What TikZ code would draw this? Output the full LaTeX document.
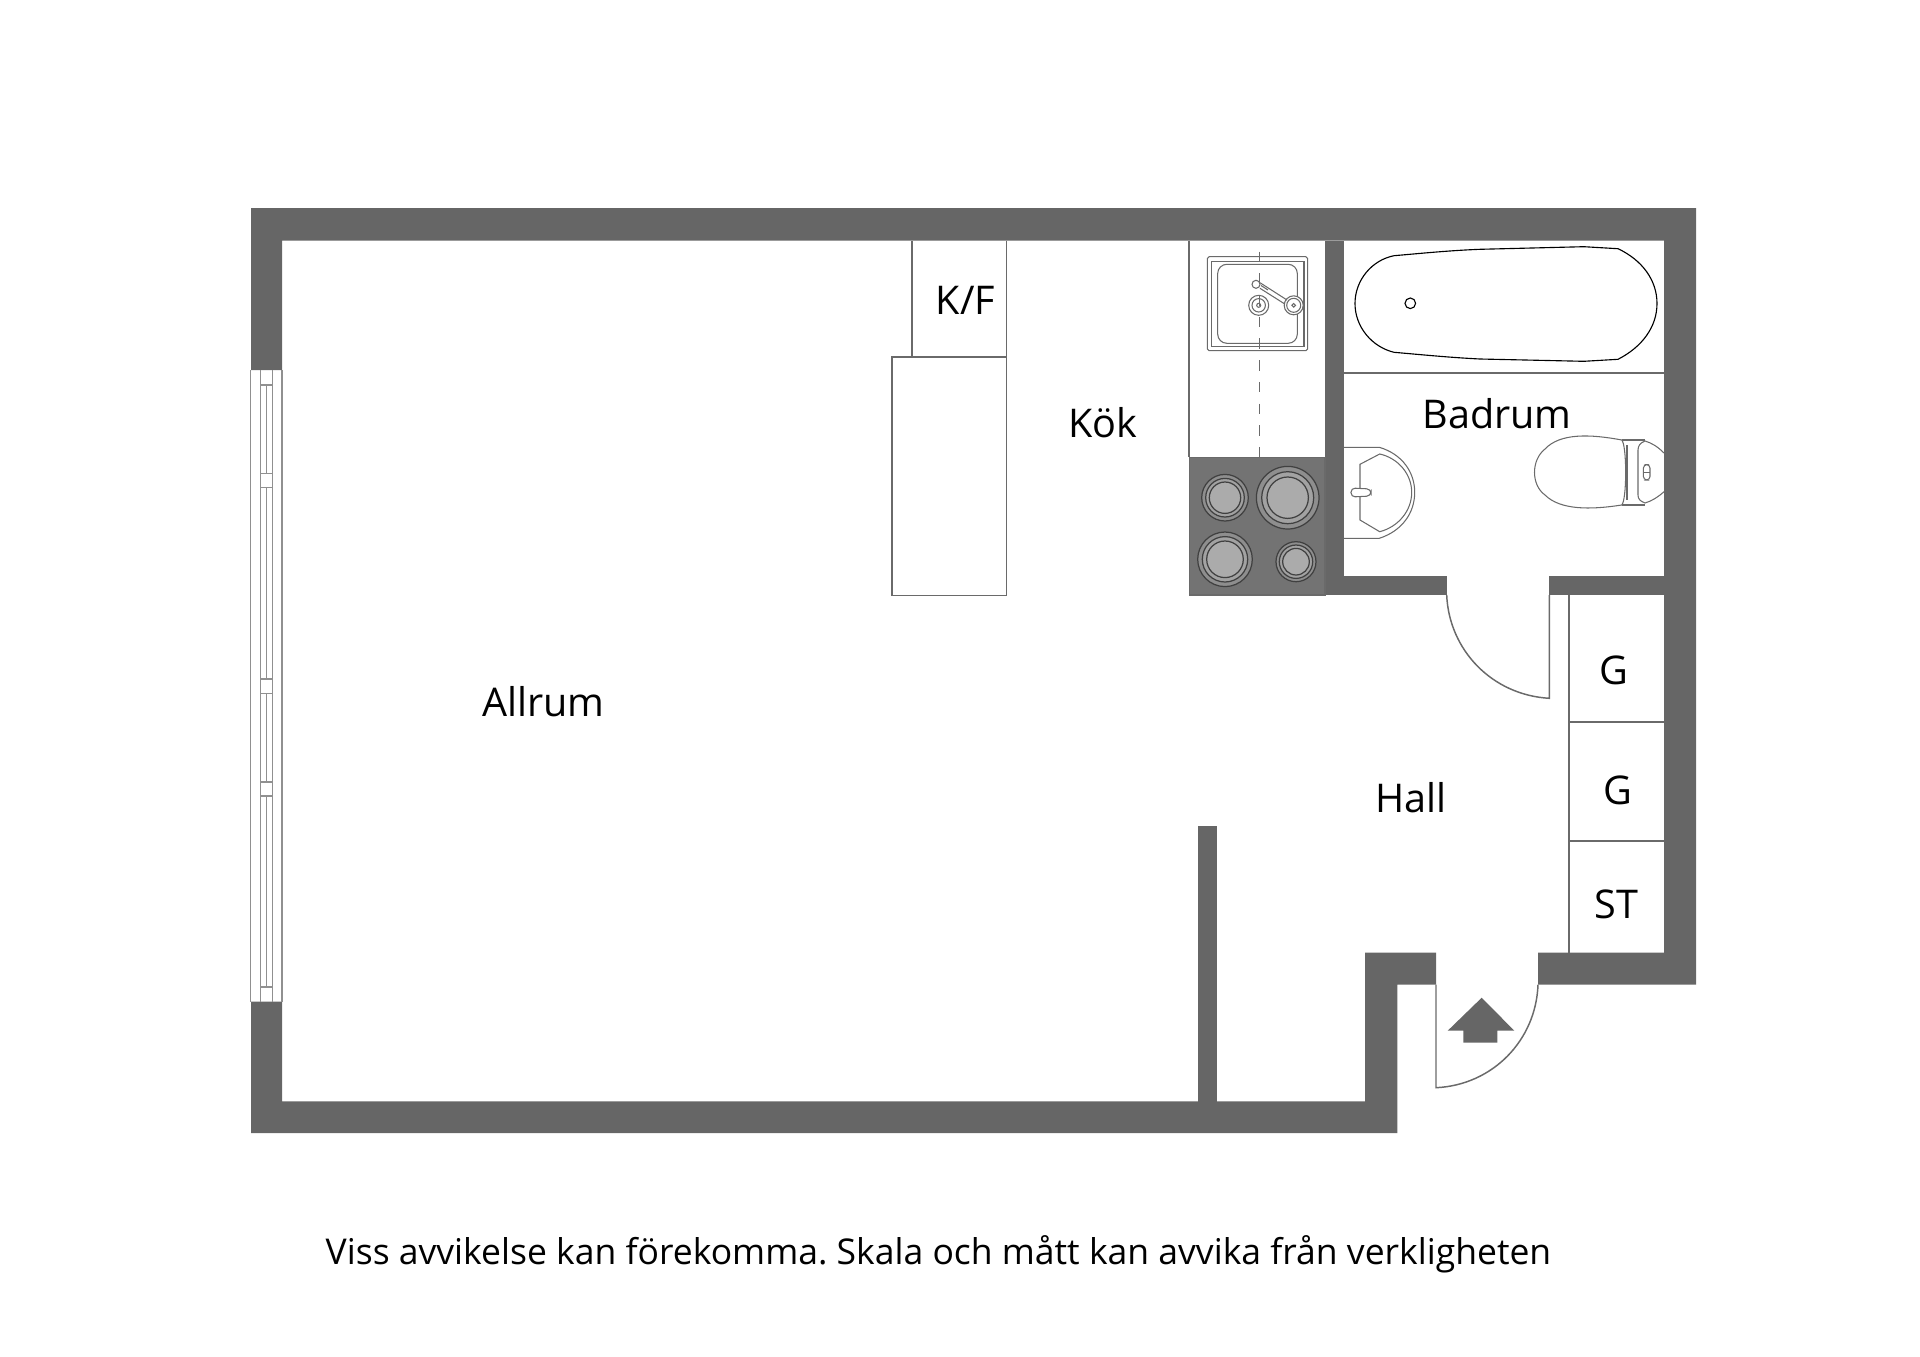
\documentclass[tikz,border=0pt]{standalone}
\usepackage{fontspec}
\setmainfont{Open Sans}
\definecolor{wallgray}{HTML}{666666}
\definecolor{hobgray}{HTML}{737373}
\definecolor{ringgray}{HTML}{8E8E8E}
\definecolor{plategray}{HTML}{ABABAB}
\definecolor{linegray}{HTML}{6A6A6A}
\definecolor{windowgray}{HTML}{909090}
\tikzstyle{wall}=[fill=wallgray, draw=none]
\tikzstyle{thin}=[draw=linegray, line width=0.55pt]
\tikzstyle{swing}=[draw=linegray, line width=0.42pt]
\tikzstyle{fixture}=[draw=linegray, line width=0.3pt]
\tikzstyle{pane}=[draw=windowgray, line width=0.45pt]
\tikzstyle{label}=[font=\fontsize{11.25}{14}\selectfont, text=black, inner sep=0pt]
\tikzstyle{note}=[font=\fontsize{10.1}{12}\selectfont\frenchspacing, text=black, inner sep=0pt]
\tikzstyle{ring}=[draw=black!75, line width=0.35pt]

\begin{document}
\begin{tikzpicture}[x=0.01cm, y=-0.01cm]
	\useasboundingbox (0, 0) rectangle (1920, 1357);
	\begin{scope}
		% outer walls
		\path [wall] (251, 208) -- (1696, 208) -- (1696, 984.7) -- (1538, 984.7) -- (1538, 952.7) -- (1664, 952.7)
			-- (1664, 240.5) -- (282, 240.5) -- (282, 370) -- (251, 370) -- cycle;
		\path [wall] (251, 1001.7) -- (282, 1001.7) -- (282, 1101.3) -- (1365, 1101.3) -- (1365, 952.7) -- (1436, 952.7)
			-- (1436, 984.7) -- (1397.3, 984.7) -- (1397.3, 1133) -- (251, 1133) -- cycle;
		% inner walls
		\path [wall] (1325, 240.5) rectangle (1344, 595);
		\path [wall] (1325, 576) rectangle (1446.7, 595);
		\path [wall] (1549.3, 576) rectangle (1664, 595);
		\path [wall] (1198.2, 825.7) rectangle (1217, 1102);
	\end{scope}
	\begin{scope}
		% window
		\draw [pane] (250.7, 370) -- (250.7, 1001.7);
		\draw [pane] (282, 370) -- (282, 1001.7);
		\draw [pane] (260.3, 370) -- (260.3, 1001.7);
		\draw [pane] (272.7, 370) -- (272.7, 1001.7);
		\foreach \ya/\yb in {385/473.3, 487.7/679, 693.3/781.7, 796/986.7} {
			\draw [pane] (266.5, \ya) -- (266.5, \yb);
			\draw [pane] (260.3, \ya) -- (272.7, \ya);
			\draw [pane] (260.3, \yb) -- (272.7, \yb);
		}
	\end{scope}
	\begin{scope}
		% kitchen units
		\draw [thin] (911.7, 240.5) -- (911.7, 356.7);
		\draw [thin] (1006.5, 240.5) -- (1006.5, 356.7);
		\draw [thin] (892.2, 356.7) rectangle (1006.5, 595.5);
		\draw [thin] (1189.3, 240.5) -- (1189.3, 457.3);
		% hob
		\path [fill=hobgray, draw=linegray, line width=0.4pt] (1189.3, 457.3) rectangle (1325, 595);
		\foreach \cx/\cy/\ra/\rb/\rc in {1225/497.7/23.3/19.3/15.7, 1287.7/497.7/31.3/26/20.7, 1225/559.3/27.3/22.7/18.3, 1296/561.7/20/16.7/13.3} {
			\draw [ring, fill=ringgray] (\cx, \cy) circle (\ra);
			\draw [ring, fill=plategray!70!ringgray] (\cx, \cy) circle (\rb);
			\draw [ring, fill=plategray] (\cx, \cy) circle (\rc);
		}
		% sink
		\draw [fixture, rounded corners=0.5pt] (1207.3, 256.7) rectangle (1307.7, 350.7);
		\draw [fixture] (1211.7, 261.7) rectangle (1304, 346.7);
		\draw [fixture, rounded corners=2.6pt] (1217.7, 264.3) rectangle (1297.3, 343.3);
		\draw [fixture, dash pattern=on 3pt off 3.17pt] (1259.5, 251.7) -- (1259.5, 457.3);
		\draw [fixture] (1258.7, 305.3) circle (10);
		\draw [fixture] (1258.7, 305.3) circle (6.7);
		\draw [fixture] (1258.7, 305.3) circle (2);
		\draw [fixture, fill=white] (1293.7, 305.3) circle (9.5);
		\draw [fixture] (1293.7, 305.3) circle (7);
		\draw [fixture] (1293.7, 305.3) circle (1.8);
		\draw [fixture, fill=white] (1256, 284.3) circle (4);
		\draw [fixture] (1260, 282.7) -- (1287, 300);
		\draw [fixture] (1260, 288.3) -- (1284, 303.5);
		\draw [fixture] (1261, 285.5) -- (1268, 290);
	\end{scope}
	\begin{scope}
		% bath
		\draw [thin] (1344, 373.3) -- (1664, 373.3);
		\draw [draw=black, line width=0.32pt] (1394, 255.7) .. controls (1425, 253) and (1450, 250.5) .. (1480, 249.3)
			-- (1583.8, 246.7) -- (1618, 248.7) .. controls (1642, 260) and (1657, 280) .. (1657, 303.5)
			.. controls (1657, 327) and (1642, 347) .. (1618, 359.3) -- (1583.8, 361.3) -- (1480, 359)
			.. controls (1450, 357.5) and (1425, 355) .. (1394, 352.3) .. controls (1372, 347) and (1355, 327) .. (1355, 303.5)
			.. controls (1355, 280) and (1372, 260) .. (1394, 255.7) -- cycle;
		\draw [draw=black, line width=0.32pt] (1410.3, 303.3) circle (5.3);
		% basin
		\draw [fixture] (1344, 447.3) -- (1379.3, 447.3) .. controls (1402, 454) and (1414.7, 472) .. (1414.7, 492.3)
			.. controls (1414.7, 513) and (1402, 531) .. (1379.3, 538.3) -- (1344, 538.3);
		\draw [fixture] (1360, 464.3) -- (1379.7, 454) .. controls (1398, 458) and (1411.7, 474) .. (1411.7, 492.3)
			.. controls (1411.7, 511) and (1398, 527) .. (1379.7, 531.7) -- (1360, 520) -- cycle;
		\draw [fixture, fill=white, rounded corners=1.2pt] (1351, 488) -- (1371, 489) -- (1371, 496) -- (1351, 497) -- cycle;
		% toilet
		\draw [fixture] (1621.7, 440) .. controls (1590, 434) and (1560, 433) .. (1545, 449)
			.. controls (1531, 460) and (1531, 485) .. (1545, 495) .. controls (1560, 510) and (1590, 510) .. (1621.7, 505)
			.. controls (1627, 500) and (1627, 445) .. (1621.7, 440) -- cycle;
		\draw [fixture] (1621.7, 440) -- (1645, 440);
		\draw [fixture] (1621.7, 505) -- (1645, 505);
		\draw [fixture] (1627, 445) -- (1627, 500);
		\draw [fixture] (1664, 453) .. controls (1658, 447) and (1652, 443) .. (1645, 441) .. controls (1640, 443) and (1638, 446) .. (1638, 450)
			-- (1638, 495) .. controls (1638, 499) and (1640, 501) .. (1645, 503) .. controls (1652, 501) and (1658, 497) .. (1664, 491.7);
		\draw [fixture, rounded corners=1pt] (1643.4, 464.6) rectangle (1650, 480);
		\draw [fixture] (1643.4, 472.3) -- (1650, 472.3);
	\end{scope}
	\begin{scope}
		% doors
		\draw [swing] (1549.3, 595) -- (1549.3, 698.3) .. controls (1492, 695) and (1449, 650) .. (1446.7, 595);
		\draw [swing] (1436, 984.7) -- (1436, 1087.7) .. controls (1493, 1085) and (1536, 1040) .. (1538, 984.7);
		\path [wall] (1481.7, 997.7) -- (1514.3, 1030.7) -- (1497.3, 1030.7) -- (1497.3, 1042.7) -- (1463.3, 1042.7)
			-- (1463.3, 1030.7) -- (1447.7, 1030.7) -- cycle;
		% wardrobes
		\draw [thin] (1569.3, 595) -- (1569.3, 952.7);
		\draw [thin] (1569.3, 722.3) -- (1664, 722.3);
		\draw [thin] (1569.3, 841.3) -- (1664, 841.3);
	\end{scope}
	\node (allrum) at (543.5, 702)[label] {Allrum};
	\node (kf) at (965.5, 300)[label] {K/F};
	\node (kok) at (1102.5, 422.5)[label] {Kök};
	\node (badrum) at (1497, 414)[label] {Badrum};
	\node (hall) at (1411, 798)[label] {Hall};
	\node (g1) at (1614, 670)[label] {G};
	\node (g2) at (1617.5, 790)[label] {G};
	\node (st) at (1616.5, 904)[label] {ST};
	\node (caption) at (938.5, 1254.5)[note] {Viss avvikelse kan förekomma. Skala och mått kan avvika från verkligheten};
\end{tikzpicture}
\end{document}
